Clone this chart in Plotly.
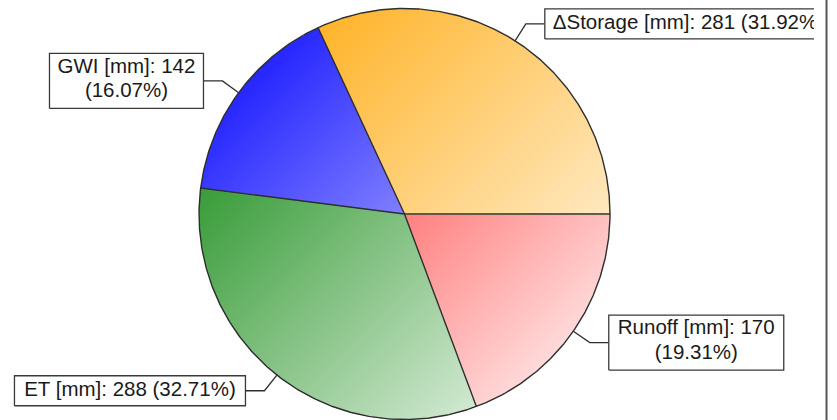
import numpy as np
import plotly.graph_objects as go

# Annual water balance components [mm]
components = ["ΔStorage", "GWI", "ET", "Runoff"]
values_mm = [281.19, 141.54, 288.14, 170.13]
unit = "mm"
base_colors = ["#FFA500", "#0000FF", "#008000", "#FF0000"]

# label layout: box size in px and whether the percentage goes on a 2nd line
box_width_px = [320, 154, 231, 175]
box_height_px = [30, 55, 30, 55]
two_lines = [False, True, False, True]

W, H = 837, 420
PLOT_RIGHT = 814                    # right edge of the plotting area, px
CX, CY, R = 404.5, 214.0, 205.5     # pie centre and radius, px
ELBOW_PX, ARM_PX = 20.0, 19.0       # leader line: radial stub, horizontal arm

FONT = dict(family="Arial, 'Liberation Sans', sans-serif", size=20.5, color="#1a1a1a")
EDGE = "#2e2e2e"

vals = np.array(values_mm, dtype=float)
shares = vals / vals.sum()
# slices run counterclockwise from 3 o'clock
bounds = np.concatenate([[0.0], np.cumsum(shares) * 360.0])
mid = np.radians((bounds[:-1] + bounds[1:]) / 2)
k = len(vals)

# axes are in pie-radius units, centre at the origin
x_range = [(0 - CX) / R, (PLOT_RIGHT - CX) / R]
y_range = [-(H - CY) / R, CY / R]

fig = go.Figure()

# ---- slice fills: diagonal gradient (base colour -> white) over the pie's box
n = int(2 * R)
edges = np.linspace(-1, 1, n + 1)
centers = (edges[:-1] + edges[1:]) / 2
gx, gy = np.meshgrid(centers, centers)
rr = np.hypot(gx, gy)
ang = np.degrees(np.arctan2(gy, gx)) % 360.0
idx = np.clip(np.searchsorted(bounds, ang, side="right") - 1, 0, k - 1)
t = np.clip(((gx + 1) + (1 - gy)) / 4.0, 0, 1)
z = idx + 0.001 + 0.998 * t
z[rr > 1.0] = np.nan

cscale = []
for i, c in enumerate(base_colors):
    cscale.append([i / k, c])
    cscale.append([(i + 1) / k, "#FFFFFF"])

fig.add_trace(go.Heatmap(
    x=centers, y=centers, z=z, zmin=0, zmax=k, colorscale=cscale,
    showscale=False, hoverinfo="skip", zsmooth=False,
))

# ---- slice outlines
th = np.linspace(0, 2 * np.pi, 721)
ox = list(np.cos(th)) + [None]
oy = list(np.sin(th)) + [None]
for b in np.radians(bounds[:-1]):
    ox += [0.0, float(np.cos(b)), None]
    oy += [0.0, float(np.sin(b)), None]
fig.add_trace(go.Scatter(x=ox, y=oy, mode="lines",
                         line=dict(color=EDGE, width=1.4), hoverinfo="skip"))

# ---- leader lines, label boxes and label text
for i, name in enumerate(components):
    cx_, sy_ = np.cos(mid[i]), np.sin(mid[i])
    e = 1 + ELBOW_PX / R
    elx, ely = e * cx_, e * sy_
    side = 1 if cx_ >= 0 else -1
    endx = elx + side * ARM_PX / R
    fig.add_trace(go.Scatter(
        x=[cx_, elx, endx], y=[sy_, ely, ely], mode="lines",
        line=dict(color=EDGE, width=1.3), hoverinfo="skip"))

    bw, bh = box_width_px[i] / R, box_height_px[i] / R
    x0, x1 = (endx, endx + bw) if side > 0 else (endx - bw, endx)
    y0, y1 = ely - bh / 2, ely + bh / 2
    fig.add_trace(go.Scatter(
        x=[x0, x1, x1, x0, x0], y=[y0, y0, y1, y1, y0], mode="lines",
        fill="toself", fillcolor="white",
        line=dict(color="#3a3a3a", width=1.3), hoverinfo="skip"))

    head = f"{name} [{unit}]: {vals[i]:.0f}"
    pct = f"({shares[i] * 100:.2f}%)"
    if two_lines[i]:
        lines = [head, pct]
        offs = [13.5, -11.0]
    else:
        lines = [f"{head} {pct}"]
        offs = [0.0]
    if i == 0:
        tx, pos = x0 + 8 / R, "middle right"
    else:
        tx, pos = (x0 + x1) / 2, "middle center"
    fig.add_trace(go.Scatter(
        x=[tx] * len(lines), y=[ely + o / R for o in offs], text=lines,
        mode="text", textposition=pos, textfont=FONT,
        cliponaxis=True, hoverinfo="skip"))

fig.update_layout(
    width=W, height=H, margin=dict(l=0, r=0, t=0, b=0),
    paper_bgcolor="white", plot_bgcolor="white", showlegend=False,
    xaxis=dict(range=x_range, domain=[0, PLOT_RIGHT / W], visible=False, fixedrange=True),
    yaxis=dict(range=y_range, domain=[0, 1], visible=False, fixedrange=True),
    shapes=[dict(type="line", xref="paper", yref="paper",
                 x0=826.5 / W, x1=826.5 / W, y0=0, y1=1,
                 line=dict(color="#555555", width=2))],
)

fig.write_html("out.html")
